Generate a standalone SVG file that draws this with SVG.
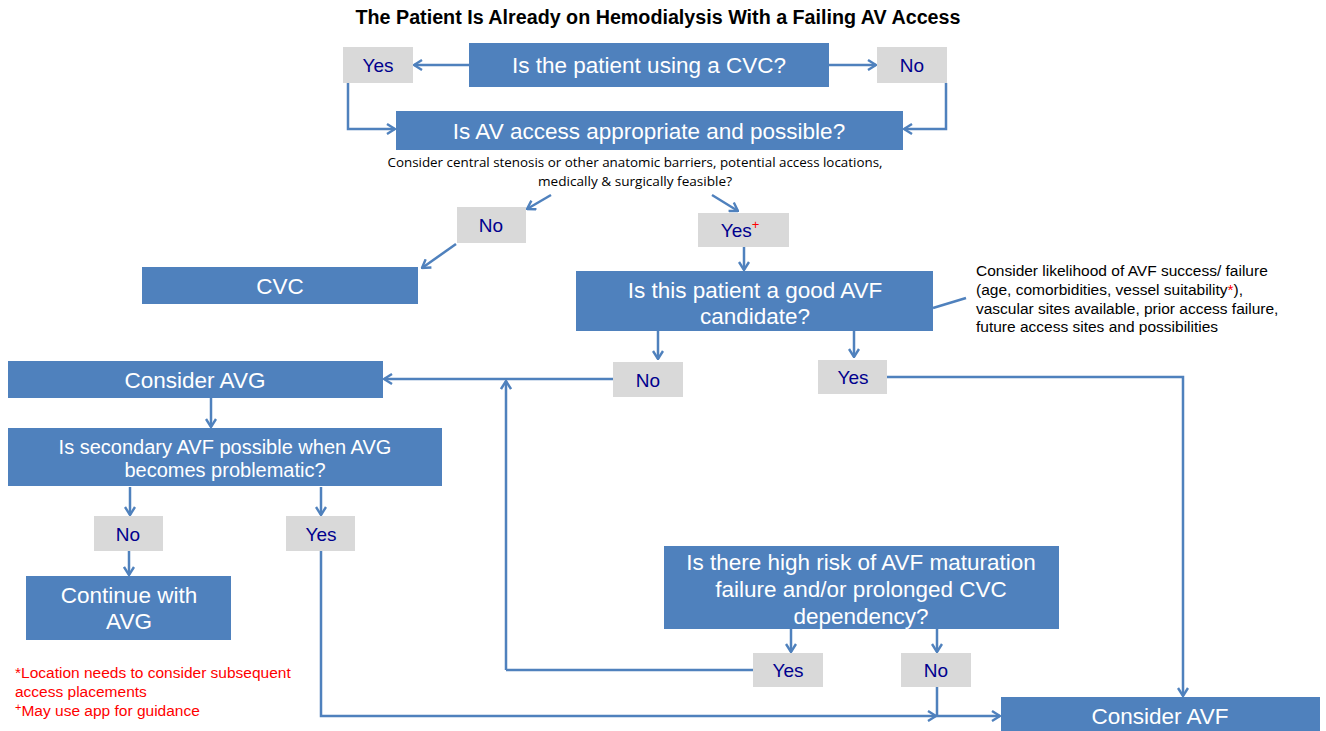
<svg xmlns="http://www.w3.org/2000/svg" width="1326" height="731" viewBox="0 0 1326 731">
  <defs>
    <marker id="arrow" markerUnits="userSpaceOnUse" viewBox="0 0 10 12" refX="9" refY="6" markerWidth="10" markerHeight="12" orient="auto">
      <path d="M1,1 L9,6 L1,11" fill="none" stroke="#4F81BD" stroke-width="2.4"/>
    </marker>
    <style>
      .box { fill: #4F81BD; }
      .lbl { fill: #D9D9D9; }
      .bt { font-family: "Liberation Sans", Arial, sans-serif; fill: #FFFFFF; text-anchor: middle; font-size: 22.5px; }
      .bt.sm { font-size: 20px; }
      .lt { font-family: "Liberation Sans", Arial, sans-serif; fill: #00008E; text-anchor: middle; font-size: 19px; }
      .ln { fill: none; stroke: #4F81BD; stroke-width: 2.5; }
      .ar { marker-end: url(#arrow); }
      .note { font-family: "Liberation Sans", Arial, sans-serif; font-size: 15.5px; fill: #000000; }
      .red { font-family: "Liberation Sans", Arial, sans-serif; font-size: 15.5px; fill: #FF0000; }
    </style>
  </defs>
  <rect width="1326" height="731" fill="#FFFFFF"/>

  <text x="658" y="24" font-family="Liberation Sans, Arial, sans-serif" font-weight="bold" font-size="19.5" text-anchor="middle" fill="#000000" textLength="605" lengthAdjust="spacingAndGlyphs">The Patient Is Already on Hemodialysis With a Failing AV Access</text>

  <!-- connectors -->
  <g id="connectors">
    <path class="ln ar" d="M469,65 H414"/>
    <path class="ln ar" d="M829,65 H876"/>
    <path class="ln ar" d="M348,83 V129 H395"/>
    <path class="ln ar" d="M946,83 V129 H904"/>
    <path class="ln ar" d="M551,195 L527,209"/>
    <path class="ln ar" d="M712,195 L738,211"/>
    <path class="ln ar" d="M456,244 L422,268"/>
    <path class="ln ar" d="M744,247 V270"/>
    <path class="ln" d="M933,308 L966,298"/>
    <path class="ln ar" d="M658,331 V359"/>
    <path class="ln ar" d="M854,331 V357"/>
    <path class="ln ar" d="M613,379 H384"/>
    <path class="ln" d="M753,670 H506"/>
    <path class="ln ar" d="M506,670 V381"/>
    <path class="ln ar" d="M887,377 H1183 V696"/>
    <path class="ln ar" d="M211,398 V427"/>
    <path class="ln ar" d="M130,487 V515"/>
    <path class="ln ar" d="M321,487 V515"/>
    <path class="ln ar" d="M129,551 V575"/>
    <path class="ln ar" d="M321,551 V716 H936"/>
    <path class="ln ar" d="M937,687 V716 H1000"/>
    <path class="ln ar" d="M791,629 V652"/>
    <path class="ln ar" d="M937,629 V652"/>
  </g>

  <g id="q-cvc">
    <rect class="box" x="469" y="43" width="360" height="44"/>
    <text class="bt" x="649" y="73">Is the patient using a CVC?</text>
  </g>
  <g id="cvc-yes">
    <rect class="lbl" x="343" y="47" width="70" height="36"/>
    <text class="lt" x="378" y="72">Yes</text>
  </g>
  <g id="cvc-no">
    <rect class="lbl" x="877" y="47" width="70" height="36"/>
    <text class="lt" x="912" y="72">No</text>
  </g>

  <g id="q-av">
    <rect class="box" x="396" y="111" width="507" height="39"/>
    <text class="bt" x="649" y="139">Is AV access appropriate and possible?</text>
    <text x="635" y="167" font-family="Open Sans, sans-serif" font-size="12.5" text-anchor="middle" fill="#000000" textLength="495" lengthAdjust="spacingAndGlyphs">Consider central stenosis or other anatomic barriers, potential access locations,</text>
    <text x="635" y="186" font-family="Open Sans, sans-serif" font-size="12.5" text-anchor="middle" fill="#000000" textLength="194" lengthAdjust="spacingAndGlyphs">medically &amp; surgically feasible?</text>
  </g>
  <g id="av-no">
    <rect class="lbl" x="457" y="207" width="69" height="36"/>
    <text class="lt" x="491" y="232">No</text>
  </g>
  <g id="av-yes">
    <rect class="lbl" x="698" y="213" width="91" height="34"/>
    <text class="lt" x="740" y="237">Yes<tspan fill="#FF0000" font-size="13" dy="-8">+</tspan></text>
  </g>

  <g id="cvc">
    <rect class="box" x="142" y="267" width="276" height="37"/>
    <text class="bt" x="280" y="294">CVC</text>
  </g>

  <g id="q-good-avf">
    <rect class="box" x="576" y="271" width="357" height="60"/>
    <text class="bt" x="755" y="298">Is this patient a good AVF</text>
    <text class="bt" x="755" y="324">candidate?</text>
  </g>
  <g id="avf-note">
    <text class="note" x="976" y="276">Consider likelihood of AVF success/ failure</text>
    <text class="note" x="976" y="295">(age, comorbidities, vessel suitability<tspan fill="#FF0000">*</tspan>),</text>
    <text class="note" x="976" y="314">vascular sites available, prior access failure,</text>
    <text class="note" x="976" y="332">future access sites and possibilities</text>
  </g>
  <g id="good-no">
    <rect class="lbl" x="613" y="362" width="70" height="35"/>
    <text class="lt" x="648" y="387">No</text>
  </g>
  <g id="good-yes">
    <rect class="lbl" x="818" y="360" width="69" height="34"/>
    <text class="lt" x="853" y="384">Yes</text>
  </g>

  <g id="consider-avg">
    <rect class="box" x="8" y="361" width="375" height="37"/>
    <text class="bt" x="195" y="388">Consider AVG</text>
  </g>
  <g id="q-secondary">
    <rect class="box" x="8" y="428" width="434" height="58"/>
    <text class="bt sm" x="225" y="454">Is secondary AVF possible when AVG</text>
    <text class="bt sm" x="225" y="477">becomes problematic?</text>
  </g>
  <g id="sec-no">
    <rect class="lbl" x="94" y="516" width="69" height="35"/>
    <text class="lt" x="128" y="541">No</text>
  </g>
  <g id="sec-yes">
    <rect class="lbl" x="286" y="516" width="69" height="35"/>
    <text class="lt" x="321" y="541">Yes</text>
  </g>
  <g id="continue-avg">
    <rect class="box" x="26" y="576" width="205" height="64"/>
    <text class="bt" x="129" y="603">Continue with</text>
    <text class="bt" x="129" y="629">AVG</text>
  </g>

  <g id="q-risk">
    <rect class="box" x="664" y="546" width="395" height="83"/>
    <text class="bt" x="861" y="570">Is there high risk of AVF maturation</text>
    <text class="bt" x="861" y="597">failure and/or prolonged CVC</text>
    <text class="bt" x="861" y="624">dependency?</text>
  </g>
  <g id="risk-yes">
    <rect class="lbl" x="753" y="653" width="70" height="34"/>
    <text class="lt" x="788" y="677">Yes</text>
  </g>
  <g id="risk-no">
    <rect class="lbl" x="901" y="653" width="70" height="34"/>
    <text class="lt" x="936" y="677">No</text>
  </g>

  <g id="consider-avf">
    <rect class="box" x="1001" y="697" width="319" height="34"/>
    <text class="bt" x="1160" y="724">Consider AVF</text>
  </g>

  <g id="footnotes">
    <text class="red" x="15" y="678">*Location needs to consider subsequent</text>
    <text class="red" x="15" y="697">access placements</text>
    <text class="red" x="15" y="716"><tspan font-size="11" dy="-5">+</tspan><tspan dy="5">May use app for guidance</tspan></text>
  </g>
</svg>
